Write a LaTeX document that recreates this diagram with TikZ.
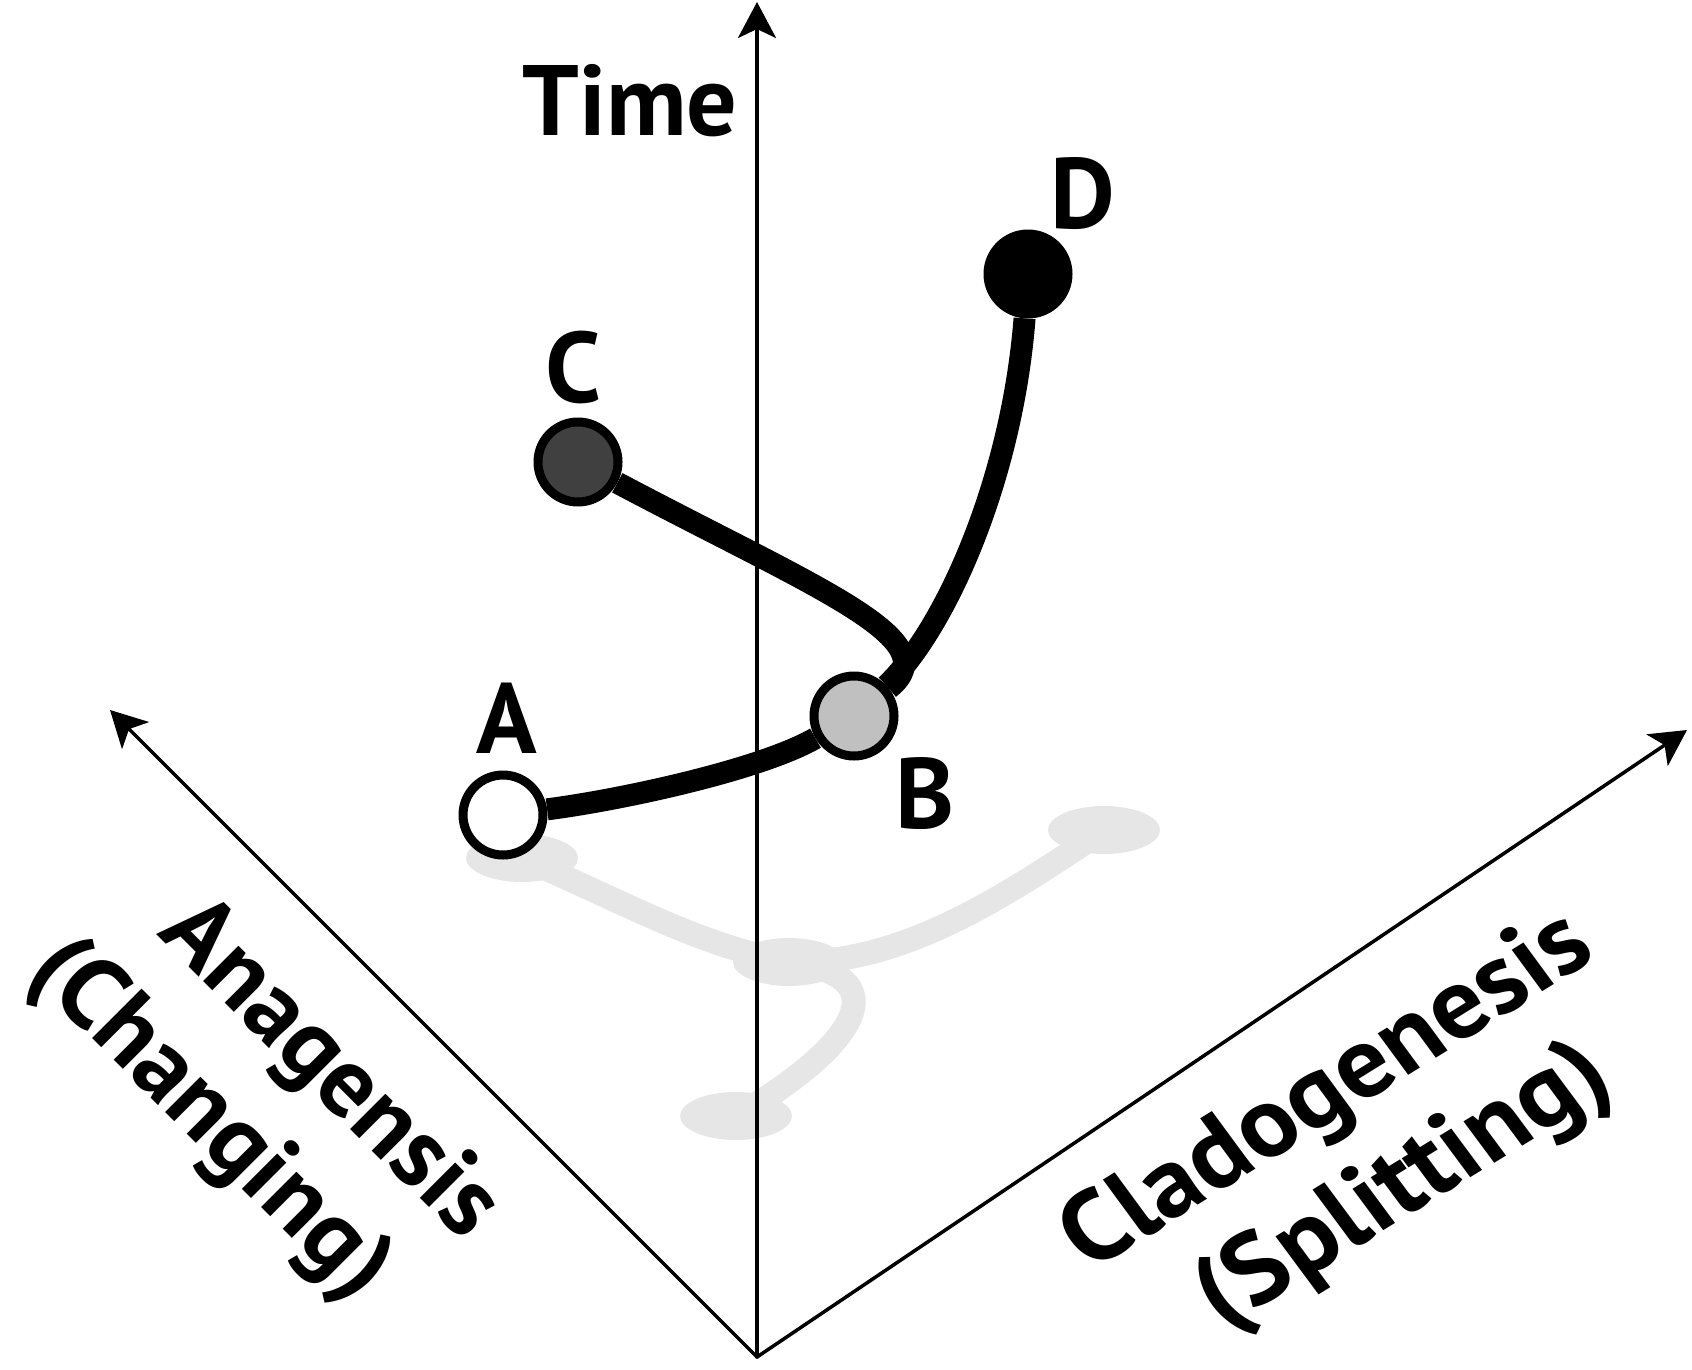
\documentclass[tikz,border=0pt]{standalone}
\usepackage{fontspec}
\setmainfont{PT Sans}
\usetikzlibrary{arrows.meta,shapes.geometric}
\definecolor{shadowgray}{HTML}{E6E6E6}
\definecolor{lightB}{HTML}{C0C0C0}
\definecolor{darkC}{HTML}{404040}
\begin{document}
\begin{tikzpicture}[x=1pt,y=1pt,>={Stealth[length=36pt,width=38pt,inset=9pt]},
	font=\fontsize{100}{110}\selectfont\bfseries, line join=round, line cap=round,
	axis/.style={line width=3.5pt,->},
	taxon/.style={circle,draw,line width=9pt,minimum size=80pt,inner sep=0pt},
	branch/.style={line width=22pt,line cap=butt},
	shade/.style={ellipse,fill=shadowgray,minimum width=112pt,minimum height=48pt,inner sep=0pt},
	shadeline/.style={line width=24pt,draw=shadowgray}]
	\useasboundingbox (0,0) rectangle (1692,-1370);
	% shadow on the ground
	\node[shade] (sA) at (522,-858) {};
	\node[shade] (sB) at (789,-962) {};
	\node[shade] (sC) at (736,-1116) {};
	\node[shade] (sD) at (1104,-830) {};
	\draw[shadeline] (sA.center) .. controls (640,-910) and (700,-945) .. (sB.center);
	\draw[shadeline] (sB.center) .. controls (900,-965) and (1000,-900) .. (sD.center);
	\draw[shadeline] (sB.center) .. controls (915,-978) and (835,-1060) .. (sC.center);
	% axes
	\coordinate (O) at (757,-1357);
	\coordinate (ana) at (110,-710);
	\coordinate (clado) at (1687,-730);
	\coordinate (time) at (757,-2);
	\draw[axis] (O)--(time);
	\draw[axis] (O)--(ana);
	\draw[axis] (O)--(clado);
	\node[anchor=base] (timelab) at (630,-136) {Time};
	\node[rotate=-45] (analab) at (328,-1071) {Anagensis};
	\node[rotate=-45] (anasub) at (209,-1121) {(Changing)};
	\node[xscale=1.09,rotate=34] (cladolab) at (1329,-1094) {Cladogenesis};
	\node[xscale=1.1,rotate=34] (cladosub) at (1405,-1188) {(Splitting)};
	% taxa
	\node[taxon,fill=white] (A) at (503,-815) {};
	\node[taxon,fill=lightB] (B) at (854,-716) {};
	\node[taxon,fill=darkC] (C) at (578,-462) {};
	\node[taxon,fill=black] (D) at (1028,-274) {};
	\draw[branch] (A) .. controls (620,-800) and (760,-770) .. (B);
	\draw[branch] (C) .. controls (820,-590) and (950,-640) .. (B);
	\draw[branch] (D) .. controls (1012,-480) and (945,-630) .. (B);
	\node[anchor=base] (labA) at (507,-753) {A};
	\node[anchor=base] (labB) at (925,-828) {B};
	\node[anchor=base] (labC) at (573,-402) {C};
	\node[anchor=base] (labD) at (1083,-228) {D};
\end{tikzpicture}
\end{document}
